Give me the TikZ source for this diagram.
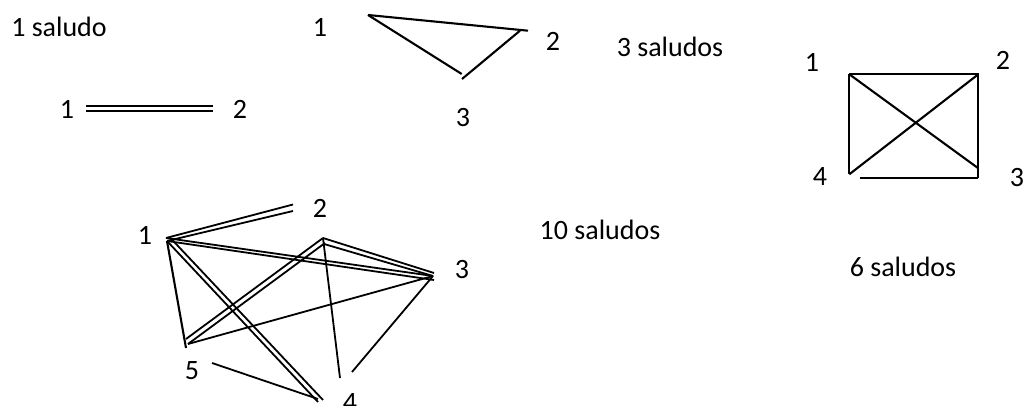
\documentclass[tikz,border=0pt]{standalone}
\usepackage{fontspec}
\setmainfont{Carlito}
\begin{document}
\begin{tikzpicture}[x=1pt,y=-1pt,
  lbl/.style={font=\fontsize{28}{32}\selectfont, inner sep=0pt, anchor=center},
  edge/.style={line width=2.1pt},
  thin/.style={line width=1.8pt}]
\useasboundingbox (0,0) rectangle (1023,406);

% ---------- 1 saludo ----------
\node[lbl] (t1) at (59,27) {1 saludo};
\node[lbl] (a1) at (67,109) {1};
\node[lbl] (a2) at (240,109) {2};
\coordinate (a1r) at (86,106);
\coordinate (a2l) at (213,106);
\coordinate (a1s) at (86,111);
\coordinate (a2s) at (213,111);
\draw[thin] (a1r) -- (a2l);
\draw[thin] (a1s) -- (a2s);

% ---------- 3 saludos ----------
\node[lbl] (t3) at (670,47) {3 saludos};
\node[lbl] (b1) at (320,27) {1};
\node[lbl] (b2) at (553,41) {2};
\node[lbl] (b3) at (463,118) {3};
\coordinate (b1p) at (368,15);
\coordinate (b2p) at (528,30.7);
\coordinate (b2q) at (520,30.7);
\coordinate (b3p) at (462,79);
\coordinate (b3q) at (461.7,74);
\draw[edge] (b1p) -- (b2p);
\draw[edge] (b2q) -- (b3p);
\draw[edge] (b1p) -- (b3q);

% ---------- 6 saludos ----------
\node[lbl] (t6) at (903,267) {6 saludos};
\node[lbl] (c1) at (812,62) {1};
\node[lbl] (c2) at (1003,60) {2};
\node[lbl] (c3) at (1017,178) {3};
\node[lbl] (c4) at (820,177) {4};
\coordinate (c1p) at (849.3,74.3);
\coordinate (c2p) at (978.3,74.3);
\coordinate (c3p) at (978.3,178.3);
\coordinate (c3q) at (978.3,168.3);
\coordinate (c4p) at (849.3,174.3);
\coordinate (c4q) at (860,178.3);
\draw[edge] (c1p) -- (c2p) -- (c3p);
\draw[edge] (c1p) -- (c4p);
\draw[edge] (c4q) -- (c3p);
\draw[edge] (c1p) -- (c3q);
\draw[edge] (c2p) -- (c4p);

% ---------- 10 saludos ----------
\node[lbl] (t10) at (600,230) {10 saludos};
\node[lbl] (d1) at (145,235) {1};
\node[lbl] (d2) at (320,208) {2};
\node[lbl] (d3) at (462,270) {3};
\node[lbl] (d4) at (350,403) {4};
\node[lbl] (d5) at (192,371) {5};
% vertices
\coordinate (v1) at (166,238);
\coordinate (v1b) at (167,241);
\coordinate (v2a) at (293,204.5);
\coordinate (v2b) at (293,211);
\coordinate (v3a) at (433,276);
\coordinate (v3b) at (434,280);
\coordinate (v3c) at (434,273);
\coordinate (pk) at (323,238);
\coordinate (pkb) at (324,244);
\coordinate (pkc) at (325,243);
\coordinate (v5a) at (186,339);
\coordinate (v5b) at (188,344);
\coordinate (v5c) at (186,348);
\coordinate (v4a) at (318,402);
\coordinate (v4b) at (323,400);
\coordinate (v4c) at (340,378);
\coordinate (v4d) at (352,372);
\coordinate (v4e) at (318,399);
\coordinate (v5e) at (212,363);
\coordinate (v1c) at (169.5,237);
% 1-2
\draw[thin] (v1) -- (v2a);
\draw[thin] (v1b) -- (v2b);
% 1-3
\draw[thin] (v1) -- (v3a);
\draw[thin] (v1b) -- (v3b);
% 1-4
\draw[thin] (v1b) -- (v4a);
\draw[thin] (v1c) -- (v4b);
% 1-5
\draw[edge] (v1b) -- (v5c);
% 5-2
\draw[thin] (v5a) -- (pk);
\draw[thin] (v5b) -- (pkc);
% 5-3
\draw[thin] (v5b) -- (v3a);
% 2-3
\draw[thin] (pk) -- (v3c);
\draw[thin] (pkb) -- (v3a);
% 2-4
\draw[thin] (pk) -- (v4c);
% 3-4
\draw[thin] (v3a) -- (v4d);
% 5-4
\draw[thin] (v5e) -- (v4e);
\end{tikzpicture}
\end{document}
